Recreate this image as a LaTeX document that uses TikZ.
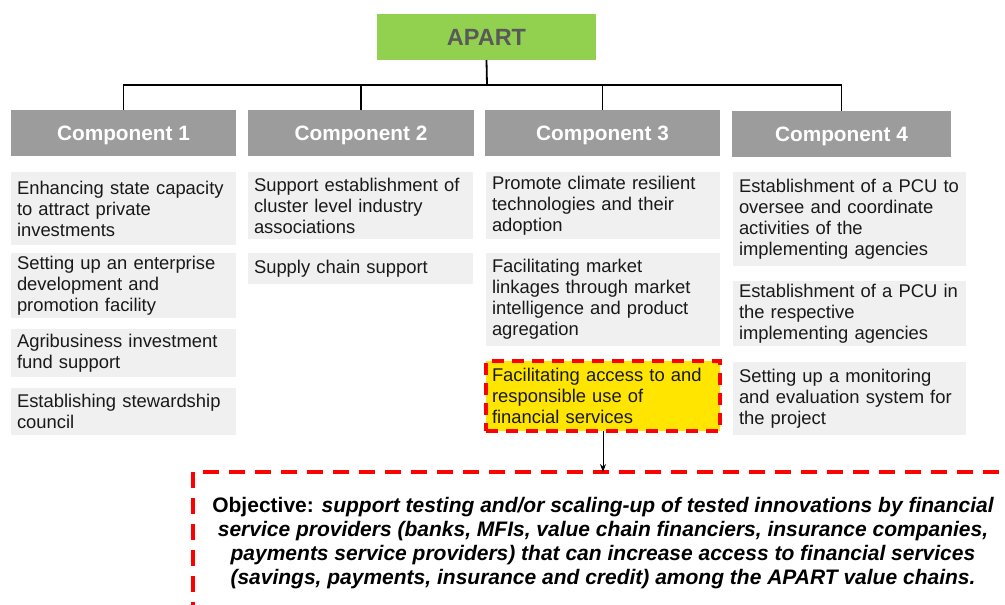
\documentclass[tikz,border=0pt]{standalone}
\usepackage{fontspec}
\setmainfont{Liberation Sans}
\usetikzlibrary{arrows.meta}
\usepackage{xcolor}
\definecolor{apartgreen}{HTML}{92D050}
\definecolor{compgray}{HTML}{9C9C9C}
\definecolor{itemgray}{HTML}{F0F0F0}
\definecolor{hiyellow}{HTML}{FFE500}
\definecolor{titlegray}{HTML}{595959}

\begin{document}
\begin{tikzpicture}[x=1pt, y=-1pt, line width=1.8pt,
        every node/.style={inner sep=0pt, outer sep=0pt},
        topbox/.style={fill=apartgreen, anchor=north west, minimum width=219pt, minimum height=46pt,
            font=\fontsize{23.5}{26}\selectfont\bfseries, text=titlegray, text height=17pt, text depth=0pt},
        compbox/.style={fill=compgray, anchor=north west, minimum width=#1, minimum height=46pt,
            font=\fontsize{20.8}{24}\selectfont\bfseries, text=white, text height=15pt, text depth=0pt},
        itembox/.style={fill=itemgray, anchor=north west, inner xsep=6pt, text width=#1,
            align=left, font=\fontsize{18.4}{21}\selectfont, text=black!90},
        hibox/.style={itembox=#1, fill=hiyellow, draw=red, line width=3.5pt, dash pattern=on 12pt off 8pt},
        objbox/.style={draw=red, line width=3.5pt, dash pattern=on 16pt off 10pt, anchor=north west,
            minimum width=820pt, minimum height=180pt}]
        \useasboundingbox (0,0) rectangle (1005,605);
        \clip (0,0) rectangle (1005,605);

        % Top and components
        \node[topbox] (apart) at (377,14) {APART};
        \node[compbox=225pt] (comp1) at (11,110) {Component 1};
        \node[compbox=226pt] (comp2) at (248,110) {Component 2};
        \node[compbox=235pt] (comp3) at (485,110) {Component 3};
        \node[compbox=219pt] (comp4) at (732,111) {Component 4};

        % Tree lines
        \coordinate (bus) at (487,85);
        \draw (apart.south) -- (bus);
        \draw (comp1.north) -- (comp1.north |- bus) -- (comp4.north |- bus) -- (comp4.north);
        \draw (comp2.north) -- (comp2.north |- bus);
        \draw (comp3.north) -- (comp3.north |- bus);

        % Component 1 activities
        \node[itembox=213pt, minimum height=73pt] (c1a) at (11,172) {Enhancing state capacity\\to attract private\\investments};
        \node[itembox=213pt, minimum height=65pt] (c1b) at (11,253) {Setting up an enterprise\\development and\\promotion facility};
        \node[itembox=213pt, minimum height=48pt] (c1c) at (11,329) {Agribusiness investment\\fund support};
        \node[itembox=213pt, minimum height=47pt] (c1d) at (11,388) {Establishing stewardship\\council};

        % Component 2 activities
        \node[itembox=213pt, minimum height=67pt] (c2a) at (248,172) {Support establishment of\\cluster level industry\\associations};
        \node[itembox=213pt, minimum height=31pt] (c2b) at (248,253) {Supply chain support};

        % Component 3 activities
        \node[itembox=222pt, minimum height=67pt] (c3a) at (486,172) {Promote climate resilient\\technologies and their\\adoption};
        \node[itembox=222pt, minimum height=93pt] (c3b) at (486,253) {Facilitating market\\linkages through market\\intelligence and product\\agregation};
        \node[hibox=222pt, minimum height=70pt] (c3c) at (486,361) {Facilitating access to and\\responsible use of\\financial services};

        % Component 4 activities
        \node[itembox=221pt, minimum height=94pt] (c4a) at (733,172) {Establishment of a PCU to\\oversee and coordinate\\activities of the\\implementing agencies};
        \node[itembox=221pt, minimum height=65pt] (c4b) at (733,281) {Establishment of a PCU in\\the respective\\implementing agencies};
        \node[itembox=221pt, minimum height=73pt] (c4c) at (733,362) {Setting up a monitoring\\and evaluation system for\\the project};

        % Objective
        \node[objbox] (objective) at (193,472) {};
        \node[align=center, anchor=north, font=\fontsize{21}{24}\selectfont\bfseries] (objtext) at (603,497)
            {Objective: \itshape support testing and/or scaling-up of tested innovations by financial\\
             \itshape service providers (banks, MFIs, value chain financiers, insurance companies,\\
             \itshape payments service providers) that can increase access to financial services\\
             \itshape (savings, payments, insurance and credit) among the APART value chains.};
        \draw[-{Stealth[length=8pt,width=6pt]}, line width=1pt] (c3c.south) -- (c3c.south |- objective.north);
    \end{tikzpicture}
\end{document}
